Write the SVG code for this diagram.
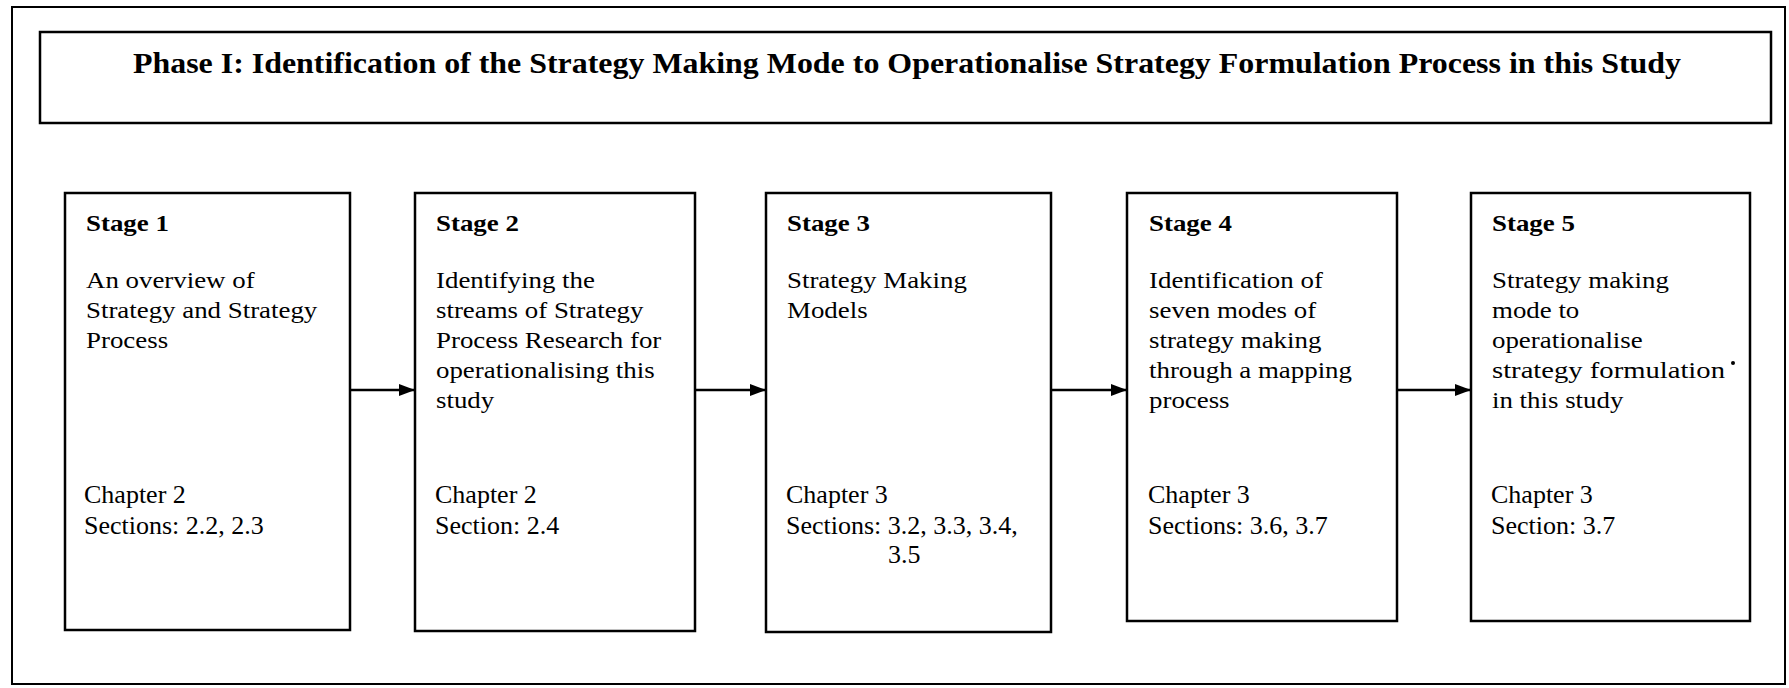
<svg xmlns="http://www.w3.org/2000/svg" width="1789" height="688" viewBox="0 0 1789 688">
  <style>
    .frame { fill: #ffffff; stroke: #000000; stroke-width: 2; }
    .box { fill: #ffffff; stroke: #000000; stroke-width: 2.5; }
    .title { font-family: "Liberation Serif", "Times New Roman", serif; font-weight: bold; font-size: 30px; fill: #000000; }
    .stage { font-family: "Liberation Serif", "Times New Roman", serif; font-weight: bold; font-size: 24px; fill: #000000; }
    .body { font-family: "Liberation Serif", "Times New Roman", serif; font-size: 24px; fill: #000000; }
    .ref { font-family: "Liberation Serif", "Times New Roman", serif; font-size: 26px; fill: #000000; }
    .link { stroke: #000000; stroke-width: 2.5; fill: none; }
  </style>
  <defs>
    <marker id="arrow" viewBox="0 0 16 12" refX="16" refY="6" markerWidth="16" markerHeight="12" markerUnits="userSpaceOnUse" orient="auto">
      <path d="M0,0 L16,6 L0,12 Z" fill="#000000"/>
    </marker>
  </defs>

  <rect x="0" y="0" width="1789" height="688" fill="#ffffff"/>

  <!-- outer frame -->
  <rect id="outer-frame" class="frame" x="12" y="7" width="1773" height="677"/>

  <!-- phase heading -->
  <g id="phase-title">
    <rect class="box" x="40" y="32" width="1731" height="91"/>
    <text class="title" x="133" y="73" textLength="1548" lengthAdjust="spacingAndGlyphs">Phase I: Identification of the Strategy Making Mode to Operationalise Strategy Formulation Process in this Study</text>
  </g>

  <!-- stage 1 -->
  <g id="stage-1">
    <rect class="box" x="65" y="193" width="285" height="437"/>
    <g transform="translate(86 0) scale(1.12 1)">
      <text class="stage" x="0" y="231">Stage 1</text>
      <text class="body" x="0" y="288">An overview of</text>
      <text class="body" x="0" y="318">Strategy and Strategy</text>
      <text class="body" x="0" y="348">Process</text>
    </g>
    <text class="ref" x="84" y="503">Chapter 2</text>
    <text class="ref" x="84" y="534">Sections: 2.2, 2.3</text>
  </g>

  <!-- stage 2 -->
  <g id="stage-2">
    <rect class="box" x="415" y="193" width="280" height="438"/>
    <g transform="translate(436 0) scale(1.12 1)">
      <text class="stage" x="0" y="231">Stage 2</text>
      <text class="body" x="0" y="288">Identifying the</text>
      <text class="body" x="0" y="318">streams of Strategy</text>
      <text class="body" x="0" y="348">Process Research for</text>
      <text class="body" x="0" y="378">operationalising this</text>
      <text class="body" x="0" y="408">study</text>
    </g>
    <text class="ref" x="435" y="503">Chapter 2</text>
    <text class="ref" x="435" y="534">Section: 2.4</text>
  </g>

  <!-- stage 3 -->
  <g id="stage-3">
    <rect class="box" x="766" y="193" width="285" height="439"/>
    <g transform="translate(787 0) scale(1.12 1)">
      <text class="stage" x="0" y="231">Stage 3</text>
      <text class="body" x="0" y="288">Strategy Making</text>
      <text class="body" x="0" y="318">Models</text>
    </g>
    <text class="ref" x="786" y="503">Chapter 3</text>
    <text class="ref" x="786" y="534">Sections: 3.2, 3.3, 3.4,</text>
    <text class="ref" x="888" y="563">3.5</text>
  </g>

  <!-- stage 4 -->
  <g id="stage-4">
    <rect class="box" x="1127" y="193" width="270" height="428"/>
    <g transform="translate(1149 0) scale(1.12 1)">
      <text class="stage" x="0" y="231">Stage 4</text>
      <text class="body" x="0" y="288">Identification of</text>
      <text class="body" x="0" y="318">seven modes of</text>
      <text class="body" x="0" y="348">strategy making</text>
      <text class="body" x="0" y="378">through a mapping</text>
      <text class="body" x="0" y="408">process</text>
    </g>
    <text class="ref" x="1148" y="503">Chapter 3</text>
    <text class="ref" x="1148" y="534">Sections: 3.6, 3.7</text>
  </g>

  <!-- stage 5 -->
  <g id="stage-5">
    <rect class="box" x="1471" y="193" width="279" height="428"/>
    <g transform="translate(1492 0) scale(1.12 1)">
      <text class="stage" x="0" y="231">Stage 5</text>
      <text class="body" x="0" y="288">Strategy making</text>
      <text class="body" x="0" y="318">mode to</text>
      <text class="body" x="0" y="348">operationalise</text>
      <text class="body" x="0" y="378" textLength="208" lengthAdjust="spacingAndGlyphs">strategy formulation</text>
      <text class="body" x="0" y="408">in this study</text>
    </g>
    <circle cx="1733" cy="363" r="2" fill="#000000"/>
    <text class="ref" x="1491" y="503">Chapter 3</text>
    <text class="ref" x="1491" y="534">Section: 3.7</text>
  </g>

  <!-- connectors between stages -->
  <g id="connectors">
    <line class="link" x1="350" y1="390" x2="415" y2="390" marker-end="url(#arrow)"/>
    <line class="link" x1="695" y1="390" x2="766" y2="390" marker-end="url(#arrow)"/>
    <line class="link" x1="1051" y1="390" x2="1127" y2="390" marker-end="url(#arrow)"/>
    <line class="link" x1="1397" y1="390" x2="1471" y2="390" marker-end="url(#arrow)"/>
  </g>
</svg>
